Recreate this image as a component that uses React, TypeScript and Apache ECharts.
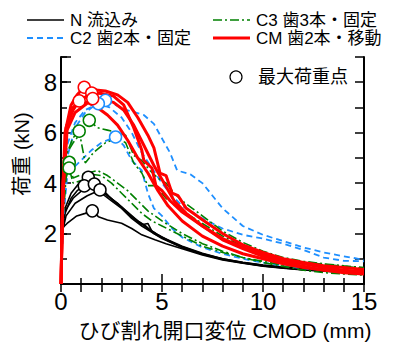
import React, { useEffect, useRef } from "react";
import * as echarts from "echarts";

// ---- Data (CMOD mm, load kN) ----
const N1 = [[0,0],[0.05,2.0],[0.2,3.0],[0.5,3.6],[0.9,4.0],[1.35,4.23],[1.8,3.9],[2.3,3.5],[2.8,3.2],[3.3,2.8],[3.8,2.5],[4.3,2.2],[4.8,1.95],[5.5,1.65],[6,1.48],[7,1.2],[8,1.0],[9,0.86],[10,0.75],[11,0.67],[12,0.6],[13,0.55],[14,0.5],[15,0.47]];
const N2 = [[0,0],[0.05,1.9],[0.2,2.8],[0.5,3.4],[0.8,3.7],[1.15,3.89],[1.5,3.85],[2,3.6],[2.5,3.3],[3,3.0],[3.5,2.6],[4,2.3],[4.5,2.05],[5,1.8],[6,1.45],[7,1.18],[8,0.98],[9,0.84],[10,0.73],[11,0.65],[12,0.58],[13,0.53],[14,0.49],[15,0.45]];
const N3 = [[0,0],[0.05,2.1],[0.2,2.9],[0.6,3.4],[1.1,3.75],[1.65,3.96],[2.1,3.7],[2.6,3.3],[3.0,3.05],[3.5,2.65],[4,2.35],[4.3,2.4],[4.5,2.1],[5,1.85],[6,1.5],[7,1.22],[8,1.0],[9,0.85],[10,0.74],[11,0.66],[12,0.59],[13,0.54],[14,0.5],[15,0.46]];
const N4 = [[0,0],[0.05,2.0],[0.25,2.7],[0.7,3.2],[1.3,3.5],[1.93,3.73],[2.3,3.5],[2.8,3.2],[3.3,2.85],[3.8,2.5],[4.2,2.3],[4.6,2.0],[5.2,1.75],[6,1.45],[7,1.18],[8,0.97],[9,0.83],[10,0.72],[11,0.64],[12,0.57],[13,0.52],[14,0.48],[15,0.44]];
const N5 = [[0,0],[0.05,2.2],[0.3,2.4],[0.78,2.7],[1.2,2.8],[1.55,2.9],[1.85,2.67],[2.3,2.54],[3,2.41],[3.5,2.2],[4,1.95],[4.65,1.75],[5.2,1.6],[6,1.4],[7,1.15],[8,0.95],[9,0.82],[10,0.71],[11,0.63],[12,0.56],[13,0.51],[14,0.47],[15,0.43]];

const C2a = [[0,0],[0.1,2.5],[0.3,5.0],[0.7,6.2],[1.2,6.8],[1.7,7.1],[2.2,7.28],[2.7,7.1],[3.2,6.9],[3.7,6.8],[4.1,6.7],[4.6,6.35],[5.05,5.7],[5.4,5.2],[5.75,4.5],[6.4,4.35],[7.0,4.0],[7.5,3.5],[8,3.0],[9,2.3],[10,1.95],[11,1.7],[12,1.45],[13,1.25],[14,1.1],[15,0.96]];
const C2b = [[0,0],[0.1,3],[0.3,5.5],[0.7,6.4],[1.2,6.9],[1.85,7.15],[2.4,7.0],[3,6.6],[3.5,6.0],[4,5.2],[4.5,4.6],[5,4.0],[5.5,3.5],[6,3.1],[7,2.6],[8,2.2],[9,1.95],[10,1.8],[11,1.6],[12,1.35],[13,1.05],[14,0.92],[15,0.9]];
const C2c = [[0,0],[0.1,2.5],[0.3,4.2],[0.6,4.6],[1.0,4.9],[1.5,5.3],[2.0,5.6],[2.7,5.83],[3.1,5.5],[3.5,4.9],[4.0,4.5],[4.3,3.6],[4.6,3.0],[5,2.7],[5.5,2.2],[6,1.85],[7,1.45],[8,1.2],[9,1.0],[10,0.85],[11,0.72],[12,0.62],[13,0.55],[14,0.5],[15,0.45]];

const C3a = [[0,0],[0.1,3],[0.3,5.2],[0.6,5.6],[0.9,5.9],[1.4,6.49],[1.8,6.2],[2.3,6.1],[2.8,6.0],[3.2,5.9],[3.6,5.1],[4,4.9],[4.4,4.5],[4.8,4.2],[5.2,4.0],[5.6,3.6],[6,3.3],[6.5,3.0],[7,2.7],[8,2.1],[9,1.65],[10,1.3],[11,1.05],[12,0.9],[13,0.8],[14,0.72],[15,0.65]];
const C3b = [[0,0],[0.1,3],[0.3,5.2],[0.6,5.8],[0.9,6.06],[1.2,4.8],[1.6,5.2],[2.2,5.6],[2.8,5.8],[3.2,5.6],[3.6,4.8],[4.0,4.4],[4.3,3.9],[4.7,3.9],[5.2,3.4],[6,2.9],[7,2.4],[8,1.9],[9,1.5],[10,1.2],[11,1.0],[12,0.85],[13,0.78],[14,0.7],[15,0.62]];
const C3c = [[0,0],[0.1,2.8],[0.25,4.4],[0.41,4.82],[0.6,4.2],[0.9,4.3],[1.3,4.4],[1.8,4.5],[2.3,4.3],[2.8,4.0],[3.3,3.7],[3.8,3.3],[4.3,2.9],[5,2.5],[6,2.0],[7,1.6],[8,1.3],[9,1.05],[10,0.85],[11,0.7],[12,0.55],[13,0.45],[14,0.4],[15,0.35]];
const C3d = [[0,0],[0.1,2.6],[0.25,4.2],[0.4,4.6],[0.6,4.0],[1.0,4.1],[1.5,4.35],[2,4.3],[2.5,4.0],[3,3.6],[3.5,3.2],[4,2.8],[4.5,2.5],[5,2.3],[6,1.9],[7,1.5],[8,1.25],[9,1.05],[10,0.9],[11,0.75],[12,0.65],[13,0.6],[14,0.55],[15,0.5]];

const CMa = [[0,0],[0.08,3.5],[0.2,6.0],[0.5,7.1],[0.8,7.5],[1.15,7.8],[1.6,7.7],[2.2,7.65],[2.8,7.5],[3.3,7.2],[3.8,6.6],[4.3,5.9],[4.6,5.4],[4.9,4.4],[5.2,4.3],[5.5,3.6],[5.8,3.5],[6.2,3.0],[7,2.55],[8,2.0],[9,1.55],[10,1.25],[11,1.0],[12,0.85],[13,0.72],[14,0.65],[15,0.58]];
const CMb = [[0,0],[0.1,3.8],[0.25,6.2],[0.6,7.0],[1.0,7.3],[1.52,7.57],[2,7.55],[2.6,7.45],[3.1,7.1],[3.6,6.2],[4.0,5.3],[4.1,4.9],[4.5,4.6],[4.7,3.9],[5.0,3.7],[5.4,3.3],[6,2.85],[7,2.3],[8,1.8],[9,1.45],[10,1.15],[11,0.95],[12,0.8],[13,0.65],[14,0.55],[15,0.5]];
const CMc = [[0,0],[0.1,4],[0.3,6.3],[0.6,6.9],[0.9,7.26],[1.3,7.2],[1.8,7.0],[2.3,6.7],[2.8,6.3],[3.3,5.7],[3.8,5.0],[4.3,4.4],[4.8,3.7],[5.3,3.1],[6,2.5],[7,1.9],[8,1.5],[9,1.2],[10,1.0],[11,0.8],[12,0.65],[13,0.55],[14,0.5],[15,0.45]];
const CMd = [[0,0],[0.1,3.5],[0.3,6.1],[0.7,6.8],[1.2,7.1],[1.57,7.35],[2.1,7.3],[2.6,7.2],[3.1,6.9],[3.6,6.3],[4.1,5.5],[4.6,4.7],[5.1,4.0],[5.6,3.3],[6.2,2.8],[7,2.3],[8,1.75],[9,1.4],[10,1.1],[11,0.9],[12,0.7],[13,0.55],[14,0.45],[15,0.4]];

const X_LABELS = [0, 5, 10, 15];
const Y_LABELS = [2, 4, 6, 8];

const FONT = '"Liberation Sans", Arial, "Noto Sans CJK JP", sans-serif';

const GROUPS = [
  { name: "N 流込み", color: "#000000", width: 1.6, dash: "solid" as any, curves: [N1, N2, N3, N4, N5] },
  { name: "C2 歯2本・固定", color: "#1E8FFF", width: 1.8, dash: [6, 4] as any, curves: [C2a, C2b, C2c] },
  { name: "C3 歯3本・固定", color: "#008000", width: 1.6, dash: [9, 3, 2, 3] as any, curves: [C3a, C3b, C3c, C3d] },
  { name: "CM 歯2本・移動", color: "#FF0000", width: 3, dash: "solid" as any, curves: [CMa, CMb, CMc, CMd] },
];

function maxPoint(c: number[][]) {
  let m = c[0];
  for (const p of c) if (p[1] > m[1]) m = p;
  return m;
}

export default function App() {
  const ref = useRef<HTMLDivElement>(null);
  useEffect(() => {
    if (!ref.current) return;
    const chart = echarts.init(ref.current, null, { renderer: "svg" });
    const series: any[] = [];
    GROUPS.forEach((g) => {
      g.curves.forEach((c) => {
        series.push({
          type: "line",
          name: g.name,
          data: c,
          showSymbol: false,
          symbol: "none",
          lineStyle: { color: g.color, width: g.width, type: g.dash },
          z: 2,
        });
      });
    });
    GROUPS.forEach((g) => {
      series.push({
        type: "scatter",
        data: g.curves.map(maxPoint),
        symbol: "circle",
        symbolSize: 12,
        itemStyle: { color: "#ffffff", borderColor: g.color, borderWidth: 1.5, opacity: 1 },
        z: 5,
      });
    });

    const axLine = { show: true, lineStyle: { color: "#000", width: 2 } };
    const tickStyle = { color: "#000", width: 1.5 };

    const legendRows = [
      { g: GROUPS[0], x: 27, y: 20 },
      { g: GROUPS[2], x: 213, y: 20 },
      { g: GROUPS[1], x: 27, y: 38 },
      { g: GROUPS[3], x: 213, y: 38 },
    ];
    const graphic: any[] = [];
    legendRows.forEach((r) => {
      graphic.push({
        type: "line",
        shape: { x1: r.x, y1: r.y, x2: r.x + 37, y2: r.y },
        style: { stroke: r.g.color, lineWidth: r.g.width, lineDash: Array.isArray(r.g.dash) ? r.g.dash : null },
      });
      graphic.push({
        type: "text",
        x: r.x + 43,
        y: r.y,
        style: { text: r.g.name, fontSize: 17, fontFamily: FONT, fill: "#000", verticalAlign: "middle", align: "left" },
      });
    });
    graphic.push({ type: "circle", shape: { cx: 236, cy: 77, r: 6 }, style: { fill: "#fff", stroke: "#000", lineWidth: 1.2 } });
    graphic.push({
      type: "text", x: 258, y: 77,
      style: { text: "最大荷重点", fontSize: 18, fontFamily: FONT, fill: "#000", verticalAlign: "middle", align: "left" },
    });
    graphic.push({
      type: "text", x: 225, y: 330,
      style: { text: "ひび割れ開口変位 CMOD (mm)", fontSize: 21, fontFamily: FONT, fill: "#000", verticalAlign: "middle", align: "center" },
    });
    graphic.push({
      type: "text", x: 22, y: 154, rotation: Math.PI / 2,
      style: { text: "荷重 (kN)", fontSize: 20, fontFamily: FONT, fill: "#000", verticalAlign: "middle", align: "center" },
    });

    chart.setOption({
      animation: false,
      grid: { left: 61, right: 29, top: 57, bottom: 60, containLabel: false },
      xAxis: [
        {
          type: "value", min: 0, max: 15, interval: 5, position: "bottom",
          axisLine: axLine,
          axisTick: { inside: true, length: 10, lineStyle: tickStyle },
          minorTick: { show: true, splitNumber: 5, length: 6, lineStyle: tickStyle },
          axisLabel: { fontSize: 24, color: "#000", fontFamily: FONT, margin: 5,
            formatter: (v: number) => (X_LABELS.includes(v) ? String(v) : "") },
          splitLine: { show: false },
        },
        {
          type: "value", min: 0, max: 15, interval: 1, position: "top",
          axisLine: axLine,
          axisTick: { inside: true, length: 8, lineStyle: tickStyle },
          axisLabel: { show: false },
          splitLine: { show: false },
        },
      ],
      yAxis: [
        {
          type: "value", min: 0, max: 9, interval: 2, position: "left",
          axisLine: axLine,
          axisTick: { inside: true, length: 10, lineStyle: tickStyle },
          axisLabel: { fontSize: 24, color: "#000", fontFamily: FONT, margin: 4,
            formatter: (v: number) => (Y_LABELS.includes(v) ? String(v) : "") },
          splitLine: { show: false },
        },
        {
          type: "value", min: 0, max: 9, interval: 1, position: "left",
          axisLine: { show: false },
          axisTick: { inside: true, length: 6, lineStyle: tickStyle },
          axisLabel: { show: false },
          splitLine: { show: false },
        },
        {
          type: "value", min: 0, max: 9, interval: 1, position: "right",
          axisLine: axLine,
          axisTick: { inside: true, length: 9, lineStyle: tickStyle },
          axisLabel: { show: false },
          splitLine: { show: false },
        },
      ],
      graphic,
      series,
    });
    return () => chart.dispose();
  }, []);
  return <div ref={ref} style={{ position: "absolute", left: 0, top: 0, width: 393, height: 344 }} />;
}
